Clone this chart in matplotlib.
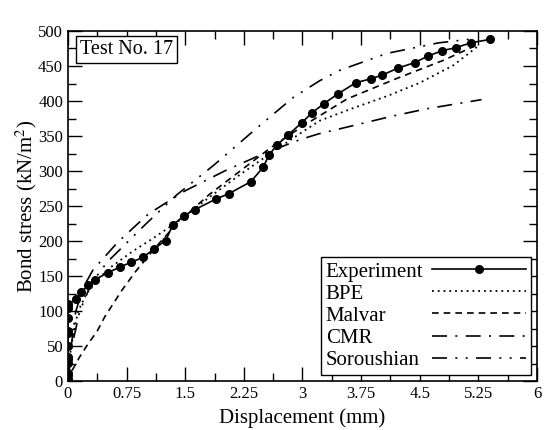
import matplotlib.pyplot as plt
from matplotlib.ticker import MultipleLocator
from matplotlib.transforms import Bbox

plt.rcParams['font.family'] = ['Liberation Serif', 'DejaVu Serif']
plt.rcParams['mathtext.fontset'] = 'stix'

# experiment
exp_s = [0, 0, 0, 0, 0, 0, 0, 0, 0, 0, 0, 0, 0, 0,
         0.10, 0.17, 0.26, 0.34, 0.51, 0.66, 0.81, 0.96, 1.10, 1.25, 1.34, 1.48,
         1.62, 1.89, 2.06, 2.34, 2.50, 2.57, 2.68, 2.82, 2.99, 3.12, 3.27, 3.45,
         3.68, 3.88, 4.02, 4.22, 4.44, 4.60, 4.79, 4.96, 5.15, 5.40]
exp_t = [1, 4, 9, 12, 26, 32, 35, 50, 69, 72, 91, 105, 108, 110,
         117, 128, 137, 145, 155, 163, 170, 177, 189, 201, 223, 236,
         245, 260, 268, 285, 306, 323, 338, 352, 369, 383, 396, 410,
         426, 432, 437, 447, 455, 464, 472, 476, 483, 488]

# models
bpe_s = [0, 0.03, 0.07, 0.13, 0.24, 0.39, 0.56, 0.82, 1.1, 1.43, 1.8, 2.2, 2.6, 3.0, 3.22, 3.65, 4.08, 4.5, 4.93, 5.23]
bpe_t = [0, 40, 69, 100, 126, 147, 164, 185, 205, 230, 262, 295, 326, 356, 372, 390, 407, 426, 451, 477]

malvar_s = [0, 0.05, 0.15, 0.26, 0.37, 0.47, 0.69, 0.86, 1.11, 1.4, 1.8, 2.2, 2.6, 3.0, 3.57, 4.2, 4.8, 5.27]
malvar_t = [0, 15, 35, 54, 71, 92, 130, 156, 190, 226, 266, 300, 334, 364, 403, 432, 458, 482]

cmr_s = [0, 0.03, 0.1, 0.2, 0.32, 0.64, 1.03, 1.5, 2.0, 2.5, 2.97, 3.2, 3.65, 4.13, 4.59, 5.29]
cmr_t = [0, 40, 100, 135, 159, 199, 239, 272, 300, 325, 345, 353, 365, 378, 389, 402]

sor_s = [0, 0.05, 0.15, 0.3, 0.5, 1.0, 1.39, 1.86, 2.4, 2.88, 3.22, 3.48, 4.08, 4.74, 5.2]
sor_t = [0, 50, 100, 140, 170, 225, 266, 308, 360, 405, 429, 444, 468, 483, 489]

xt = [0, 0.75, 1.5, 2.25, 3, 3.75, 4.5, 5.25, 6]
xtl = ['0', '0.75', '1.5', '2.25', '3', '3.75', '4.5', '5.25', '6']

fig, ax = plt.subplots(figsize=(5.48, 4.30), dpi=100)
fig.subplots_adjust(left=0.124, right=0.98, top=0.928, bottom=0.113)

ax.plot(exp_s, exp_t, 'k-', lw=1.2, marker='o', ms=5.5, label='Experiment')
ax.plot(bpe_s, bpe_t, color='k', lw=1.3, ls=(0, (1, 2.2)), label='BPE')
ax.plot(malvar_s, malvar_t, color='k', lw=1.2, ls=(0, (4, 3)), label='Malvar')
ax.plot(cmr_s, cmr_t, color='k', lw=1.2, ls=(0, (9, 5, 1.2, 5)), label='CMR')
ax.plot(sor_s, sor_t, color='k', lw=1.2, ls=(0, (9, 5, 1.2, 5, 1.2, 5)), label='Soroushian')

ax.set_xlim(0, 6)
ax.set_ylim(0, 500)
ax.set_xticks(xt)
ax.set_xticklabels(xtl)
ax.xaxis.set_minor_locator(MultipleLocator(0.375))
ax.yaxis.set_major_locator(MultipleLocator(50))
ax.yaxis.set_minor_locator(MultipleLocator(25))
ax.tick_params(which='both', direction='in', top=True, right=True, labelsize=12)
ax.tick_params(which='major', length=10, width=1)
ax.tick_params(which='minor', length=6, width=1)
for sp in ax.spines.values():
    sp.set_linewidth(1.2)

ax.set_xlabel('Displacement (mm)', fontsize=15, labelpad=4)
ax.set_ylabel('Bond stress (kN/m$^2$)', fontsize=15, labelpad=-1)

ax.text(0.025, 0.975, 'Test No. 17', transform=ax.transAxes, fontsize=14.5, va='top', ha='left',
        bbox=dict(boxstyle='square,pad=0.2', fc='white', ec='k', lw=1))

leg = ax.legend(loc='lower right', markerfirst=False, fontsize=15, handlelength=4.5,
                frameon=True, fancybox=False, edgecolor='k', framealpha=1,
                borderpad=0.25, labelspacing=0.12, handletextpad=0.4, borderaxespad=0.3)
leg.get_frame().set_linewidth(1)

# legend labels left aligned: give every text box the width of the widest one
fig.canvas.draw()
rend = fig.canvas.get_renderer()
items = leg._legend_handle_box.get_children()[0].get_children()
tas = [it.get_children()[0] for it in items]
wmax = max(ta.get_bbox(rend).width for ta in tas)
for ta in tas:
    def gb(renderer, orig=ta.get_bbox):
        b = orig(renderer)
        return Bbox.from_bounds(b.x0, b.y0, wmax, b.height)
    ta.get_bbox = gb

fig.savefig('out.png', dpi=100)
